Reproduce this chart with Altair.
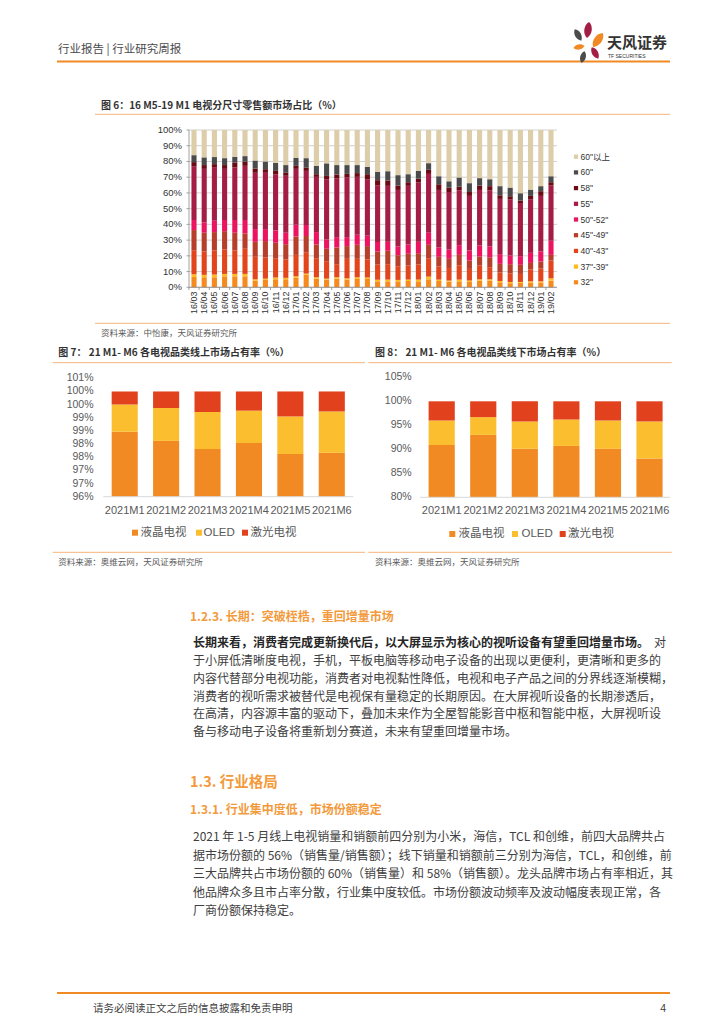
import altair as alt
import pandas as pd

# ---------------- data: figure 6 (share of retail sales by screen size, %) ----------------
months6 = ["16/03", "16/04", "16/05", "16/06", "16/07", "16/08", "16/09", "16/10", "16/11", "16/12",
           "17/01", "17/02", "17/03", "17/04", "17/05", "17/06", "17/07", "17/08", "17/09", "17/10",
           "17/11", "17/12", "18/01", "18/02", "18/03", "18/04", "18/05", "18/06", "18/07", "18/08",
           "18/09", "18/10", "18/11", "18/12", "19/01", "19/02"]
sizes6 = ['32"', '37"-39"', '40"-43"', '45"-49"', '50"-52"', '55"', '58"', '60"', '60"以上']
colors6 = ["#F58A1F", "#FDBB1E", "#E2441B", "#B63F2B", "#EC1460", "#A31D45", "#6A0A12", "#4B4B4B", "#DDCDA8"]

s32 = [6.6, 6.4, 6.4, 7.0, 7.0, 7.0, 4.3, 4.7, 5.1, 5.1, 6.0, 7.9, 5.5, 4.9, 5.5, 4.9, 5.3, 5.3,
       3.8, 3.8, 3.8, 4.0, 3.8, 5.1, 4.0, 3.6, 3.8, 3.4, 4.3, 4.3, 3.2, 2.6, 2.8, 3.0, 3.0, 4.3]
s37 = [1.7, 1.5, 1.7, 1.5, 1.5, 1.5, 0.8, 0.8, 1.1, 0.9, 1.0, 0.8, 0.9, 0.6, 0.9, 0.8, 1.1, 0.9,
       1.0, 1.1, 0.9, 0.9, 1.1, 1.7, 0.9, 0.7, 1.1, 0.9, 0.8, 0.8, 0.8, 0.8, 0.6, 0.8, 0.8, 1.4]
s40 = [15.3, 14.9, 15.3, 15.5, 14.9, 16.0, 14.3, 13.4, 12.3, 11.7, 13.6, 13.6, 12.1, 11.1, 8.3, 12.4, 11.7, 11.5,
       9.6, 9.8, 8.7, 8.9, 9.6, 11.7, 8.3, 8.0, 9.1, 7.4, 8.7, 7.7, 5.4, 5.5, 5.1, 7.5, 8.1, 11.3]
s45 = [12.8, 11.9, 11.7, 11.7, 11.3, 9.8, 9.5, 10.5, 9.8, 9.7, 11.7, 10.3, 8.7, 7.9, 10.6, 8.1, 8.9, 8.5,
       8.3, 8.5, 7.0, 7.5, 7.2, 8.5, 6.2, 5.8, 6.6, 5.3, 5.8, 6.3, 5.5, 5.8, 5.8, 4.2, 4.5, 3.6]
s50 = [6.4, 6.6, 7.2, 7.1, 8.1, 8.5, 8.1, 7.6, 7.9, 7.3, 7.5, 7.0, 7.9, 5.9, 6.6, 5.7, 6.4, 6.6,
       6.1, 5.7, 5.6, 5.9, 7.2, 7.7, 5.9, 5.9, 6.2, 6.4, 7.0, 6.9, 6.2, 5.5, 5.5, 6.4, 6.4, 9.0]
s55 = [34.2, 34.0, 34.1, 32.5, 33.4, 34.4, 35.8, 35.8, 35.5, 36.2, 35.5, 34.4, 35.1, 38.3, 37.2, 38.1, 36.8, 35.9,
       36.1, 35.6, 35.9, 37.3, 37.7, 37.4, 36.6, 36.6, 34.9, 34.7, 35.3, 35.5, 35.1, 35.8, 33.8, 34.1, 35.3, 35.1]
s58 = [2.6, 2.4, 1.9, 2.4, 3.2, 2.6, 2.7, 2.3, 2.3, 1.9, 1.9, 2.0, 1.7, 2.1, 2.6, 2.1, 2.4, 3.2,
       3.2, 3.4, 2.8, 2.3, 2.5, 2.6, 3.6, 2.8, 2.3, 2.5, 2.8, 2.8, 2.3, 1.9, 1.5, 2.1, 3.0, 2.1]
s60 = [4.4, 4.9, 4.5, 4.4, 3.6, 3.6, 5.1, 4.9, 5.1, 4.9, 5.1, 6.1, 5.3, 8.0, 6.0, 5.6, 5.1, 4.7,
       5.3, 5.9, 6.6, 5.1, 4.9, 4.2, 5.1, 4.0, 5.8, 5.6, 4.7, 4.4, 5.8, 5.5, 4.7, 4.0, 3.2, 3.8]
s60p = [16.0, 17.4, 17.2, 17.9, 17.0, 16.6, 19.4, 20.0, 20.9, 22.3, 17.7, 17.9, 22.8, 21.2, 22.3, 22.3, 22.3, 23.4,
        26.6, 26.2, 28.7, 28.1, 26.0, 21.1, 29.4, 32.6, 30.2, 33.8, 30.6, 31.3, 35.7, 36.6, 40.2, 37.9, 35.7, 29.4]
series6 = [s32, s37, s40, s45, s50, s55, s58, s60, s60p]

y6_ticks = [0, 10, 20, 30, 40, 50, 60, 70, 80, 90, 100]
y6_labels = ["0%", "10%", "20%", "30%", "40%", "50%", "60%", "70%", "80%", "90%", "100%"]

# ---------------- data: figures 7 & 8 (online / offline share by TV type, %) ----------------
months7 = ["2021M1", "2021M2", "2021M3", "2021M4", "2021M5", "2021M6"]
cats7 = ["液晶电视", "OLED", "激光电视"]
colors7 = ["#F28A24", "#FBBE2E", "#E1411C"]

lcd_online = [98.47, 98.12, 97.81, 98.04, 97.62, 97.67]
oled_online = [1.03, 1.25, 1.41, 1.23, 1.43, 1.57]
laser_online = [0.50, 0.63, 0.78, 0.73, 0.95, 0.76]

lcd_offline = [90.9, 93.0, 90.1, 90.7, 90.1, 88.1]
oled_offline = [5.1, 3.7, 5.7, 5.5, 5.9, 7.7]
laser_offline = [4.0, 3.3, 4.2, 3.8, 4.0, 4.2]

y7_ticks = [96, 96.5, 97, 97.5, 98, 98.5, 99, 99.5, 100, 100.5]
y7_labels = ["96%", "97%", "97%", "98%", "98%", "99%", "99%", "100%", "100%", "101%"]
y8_ticks = [80, 85, 90, 95, 100, 105]
y8_labels = ["80%", "85%", "90%", "95%", "100%", "105%"]

# ---------------- text ----------------
header_txt = "行业报告 | 行业研究周报"
title6 = "图 6：16 M5-19 M1 电视分尺寸零售额市场占比（%）"
title7 = "图 7：  21 M1- M6 各电视品类线上市场占有率（%）"
title8 = "图 8：  21 M1- M6 各电视品类线下市场占有率（%）"
source6 = "资料来源：中怡康，天风证券研究所"
source78 = "资料来源：奥维云网，天风证券研究所"
h123 = "1.2.3. 长期：突破桎梏，重回增量市场"
para1_bold = "长期来看，消费者完成更新换代后，以大屏显示为核心的视听设备有望重回增量市场。"
para1_first_tail = "对"
para1 = [
    "于小屏低清晰度电视，手机，平板电脑等移动电子设备的出现以更便利，更清晰和更多的",
    "内容代替部分电视功能，消费者对电视黏性降低，电视和电子产品之间的分界线逐渐模糊，",
    "消费者的视听需求被替代是电视保有量稳定的长期原因。在大屏视听设备的长期渗透后，",
    "在高清，内容源丰富的驱动下，叠加未来作为全屋智能影音中枢和智能中枢，大屏视听设",
    "备与移动电子设备将重新划分赛道，未来有望重回增量市场。",
]
h13 = "1.3. 行业格局"
h131 = "1.3.1. 行业集中度低，市场份额稳定"
para2 = [
    "2021 年 1-5 月线上电视销量和销额前四分别为小米，海信，TCL 和创维，前四大品牌共占",
    "据市场份额的 56%（销售量/销售额）；线下销量和销额前三分别为海信，TCL，和创维，前",
    "三大品牌共占市场份额的 60%（销售量）和 58%（销售额）。龙头品牌市场占有率相近，其",
    "他品牌众多且市占率分散，行业集中度较低。市场份额波动频率及波动幅度表现正常，各",
    "厂商份额保持稳定。",
]
footer_txt = "请务必阅读正文之后的信息披露和免责申明"
page_no = "4"

# ---------------- helpers (page coordinates -> chart coordinates) ----------------
OX, OY = 8, 8
def px(v):
    return v - OX
def py(v):
    return v - OY

CJK = "Noto Sans CJK SC"
LAT = "Liberation Sans, Noto Sans CJK SC"
ORANGE = "#F08A24"
LIGHT_OR = "#F6B47A"

layers = []

def add_text(x, y, s, size=12, color="#404040", weight="normal", align="left", font=CJK):
    layers.append(alt.Chart().mark_text(fontSize=size, color=color, fontWeight=weight, align=align,
                                        baseline="middle", font=font)
                  .encode(x=alt.value(px(x)), y=alt.value(py(y)), text=alt.value(s)))

def add_hline(x1, x2, y, color, width=1.0):
    layers.append(alt.Chart().mark_rule(color=color, strokeWidth=width)
                  .encode(x=alt.value(px(x1)), x2=alt.value(px(x2)), y=alt.value(py(y))))

def add_vline(x, y1, y2, color, width=1.0):
    layers.append(alt.Chart().mark_rule(color=color, strokeWidth=width)
                  .encode(x=alt.value(px(x)), y=alt.value(py(y1)), y2=alt.value(py(y2))))

# ---------------- header ----------------
add_text(58, 50, header_txt, size=11.5, color="#4A4A4A")
add_hline(57, 670, 61.5, ORANGE, 2)
petal = "M0,-1C0.62,-0.55 0.62,0.55 0,1C-0.62,0.55 -0.62,-0.55 0,-1Z"
for (x, y, h, ang, col) in [(578, 35, 13, 330, "#4B4B4B"), (588, 30, 16, 8, "#A31D45"),
                            (598, 40, 17, 35, "#F08A24"), (579, 47, 11, 80, "#F08A24"),
                            (595, 53, 13, 330, "#A31D45"), (583, 57, 12, 15, "#4B4B4B")]:
    layers.append(alt.Chart().mark_point(shape=petal, filled=True, opacity=1, size=h * h,
                                         angle=ang, color=col, strokeWidth=0)
                  .encode(x=alt.value(px(x)), y=alt.value(py(y))))
add_text(607, 43, "天风证券", size=15, color="#333333", weight="bold")
add_text(608, 56, "TF SECURITIES", size=5, color="#333333", font=LAT)

# ---------------- figure 6 ----------------
add_text(101, 106, title6, size=10, color="#333333", weight="bold")
add_hline(95, 670, 114.3, LIGHT_OR, 1)

rows6 = []
for si, (name, vals) in enumerate(zip(sizes6, series6)):
    for m, v in zip(months6, vals):
        rows6.append({"month": m, "size": name, "order": si, "value": v})
df6 = pd.DataFrame(rows6)
df6_ticks = pd.DataFrame({"t": y6_ticks, "label": y6_labels})
df6_months = pd.DataFrame({"month": months6})
df6_legend = pd.DataFrame({"size": sizes6})

x6_scale = alt.Scale(domain=months6, range=[px(188.9), px(556.1)], paddingInner=0.5, paddingOuter=0.25)
x6_cells = alt.Scale(domain=months6, range=[px(188.9), px(556.1)], paddingInner=0, paddingOuter=0)
y6_scale = alt.Scale(domain=[0, 100], range=[py(287.3), py(130)], nice=False, zero=False)
c6_scale = alt.Scale(domain=sizes6, range=colors6)

layers.append(alt.Chart(df6_ticks).mark_rule(color="#C4C4C4", strokeWidth=0.8).encode(
    y=alt.Y("t:Q", scale=y6_scale, axis=None), x=alt.value(px(189)), x2=alt.value(px(557))))
layers.append(alt.Chart(df6).mark_bar().encode(
    x=alt.X("month:N", scale=x6_scale, axis=None),
    y=alt.Y("value:Q", stack="zero", scale=y6_scale, axis=None),
    color=alt.Color("size:N", scale=c6_scale, legend=None),
    order=alt.Order("order:Q", sort="ascending")))
add_vline(189, 130, 287.3, "#8C8C8C", 0.8)
add_hline(189, 557, 287.3, "#8C8C8C", 0.8)
layers.append(alt.Chart(df6_ticks).mark_rule(color="#8C8C8C", strokeWidth=0.8).encode(
    y=alt.Y("t:Q", scale=y6_scale, axis=None), x=alt.value(px(186.5)), x2=alt.value(px(189))))
layers.append(alt.Chart(df6_ticks).mark_text(align="right", baseline="middle", fontSize=9.5,
                                             font=LAT, color="#333333").encode(
    y=alt.Y("t:Q", scale=y6_scale, axis=None), x=alt.value(px(182)), text="label:N"))
layers.append(alt.Chart(df6_months).mark_rule(color="#8C8C8C", strokeWidth=0.8).encode(
    x=alt.X("month:N", scale=x6_cells, axis=None, bandPosition=0),
    y=alt.value(py(287.3)), y2=alt.value(py(290))))
layers.append(alt.Chart(df6_months).mark_text(angle=270, align="right", baseline="middle",
                                              fontSize=9, font=LAT, color="#333333").encode(
    x=alt.X("month:N", scale=x6_scale, axis=None), y=alt.value(py(291.5)), text="month:N"))
leg6_scale = alt.Scale(type="point", domain=list(reversed(sizes6)), range=[py(156.7), py(282.3)], padding=0)
layers.append(alt.Chart(df6_legend).mark_square(size=18, opacity=1).encode(
    y=alt.Y("size:N", scale=leg6_scale, axis=None), x=alt.value(px(576)),
    color=alt.Color("size:N", scale=c6_scale, legend=None)))
layers.append(alt.Chart(df6_legend).mark_text(align="left", baseline="middle", fontSize=8.5,
                                              font=LAT, color="#333333").encode(
    y=alt.Y("size:N", scale=leg6_scale, axis=None), x=alt.value(px(580.5)), text="size:N"))
add_hline(95, 670, 323.3, LIGHT_OR, 1)
add_text(101, 333.3, source6, size=8.5, color="#595959")

# ---------------- figures 7 & 8 ----------------
def stacked_panel(title, lcd, oled, laser, ticks, labels, ydom, x0, x1, ybot, ytop,
                  label_x, line_x0, line_x1, title_x, leg_sq, leg_tx, leg_y, axis_x0, axis_x1):
    add_text(title_x, 353.3, title, size=10, color="#333333", weight="bold")
    add_hline(line_x0, line_x1, 362.7, LIGHT_OR, 1)
    rows = []
    for ci, (cat, vals) in enumerate(zip(cats7, [lcd, oled, laser])):
        for m, v in zip(months7, vals):
            rows.append({"month": m, "cat": cat, "order": ci, "value": v})
    df = pd.DataFrame(rows)
    dft = pd.DataFrame({"t": ticks, "label": labels})
    dfm = pd.DataFrame({"month": months7})
    xs = alt.Scale(domain=months7, range=[px(x0), px(x1)], paddingInner=0.37, paddingOuter=0.185)
    ys = alt.Scale(domain=ydom, range=[py(ybot), py(ytop)], nice=False, zero=False, clamp=True)
    cs = alt.Scale(domain=cats7, range=colors7)
    layers.append(alt.Chart(df).mark_bar().encode(
        x=alt.X("month:N", scale=xs, axis=None),
        y=alt.Y("value:Q", stack="zero", scale=ys, axis=None),
        color=alt.Color("cat:N", scale=cs, legend=None),
        order=alt.Order("order:Q", sort="ascending")))
    add_hline(axis_x0, axis_x1, ybot, "#D9D9D9", 1)
    layers.append(alt.Chart(dft).mark_text(align="right", baseline="middle", fontSize=10.5,
                                           font=LAT, color="#595959").encode(
        y=alt.Y("t:Q", scale=ys, axis=None), x=alt.value(px(label_x)), text="label:N"))
    layers.append(alt.Chart(dfm).mark_text(align="center", baseline="middle", fontSize=11,
                                           font=LAT, color="#595959").encode(
        x=alt.X("month:N", scale=xs, axis=None), y=alt.value(py(511)), text="month:N"))
    for cat, col, sx, tx in zip(cats7, colors7, leg_sq, leg_tx):
        layers.append(alt.Chart().mark_square(size=36, opacity=1, color=col).encode(
            x=alt.value(px(sx)), y=alt.value(py(leg_y))))
        add_text(tx, leg_y, cat, size=11.5, color="#595959", font=LAT)
    add_hline(line_x0, line_x1, 552.3, LIGHT_OR, 1)
    add_text(title_x, 561.7, source78, size=8.5, color="#595959")

stacked_panel(title7, lcd_online, oled_online, laser_online, y7_ticks, y7_labels, [96, 100.5],
              104, 352.5, 496.7, 378.3, 93.5, 52.7, 365, 58.3,
              [135, 199, 245], [140.5, 203.5, 250.5], 532.7, 103.3, 353.3)
stacked_panel(title8, lcd_offline, oled_offline, laser_offline, y8_ticks, y8_labels, [80, 105],
              420.9, 670.3, 497.3, 377.3, 411.7, 368.3, 671.7, 375,
              [452.3, 515, 562.7], [458.5, 521.5, 568], 534, 420, 670)

# ---------------- body text ----------------
add_text(190, 617, h123, size=12, color="#F39A3C", weight="bold")
add_text(193, 643, para1_bold, size=12, color="#262626", weight="bold")
add_text(666, 643, para1_first_tail, size=12, color="#404040", align="right")
for i, line in enumerate(para1):
    add_text(193, 661 + i * 17.8, line, size=12, color="#404040")
add_text(190, 783, h13, size=14.5, color="#F39A3C", weight="bold")
add_text(190, 810, h131, size=12, color="#F39A3C", weight="bold")
for i, line in enumerate(para2):
    add_text(193, 837 + i * 18.5, line, size=12, color="#404040")

# ---------------- footer ----------------
add_hline(57, 670, 993, ORANGE, 2)
add_text(93, 1008.8, footer_txt, size=10.5, color="#404040")
add_text(666, 1008.8, page_no, size=10.5, color="#404040", align="right", font=LAT)

chart = alt.layer(*layers).resolve_scale(
    x="independent", y="independent", color="independent"
).properties(
    width=708, height=1008, padding=0, autosize=alt.AutoSizeParams(type="none")
).configure_view(stroke=None)

chart.save("out.html", embed_options={"renderer": "svg", "actions": False})
